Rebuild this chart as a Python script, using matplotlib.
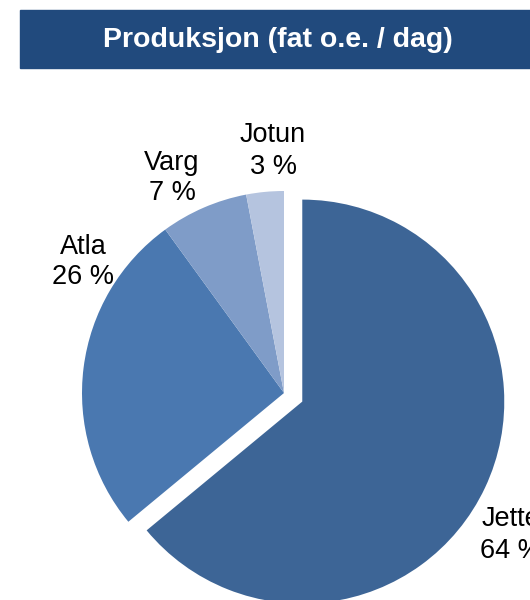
import numpy as np
import matplotlib.pyplot as plt
from matplotlib.patches import Rectangle

plt.rcParams['font.family'] = ['Liberation Sans', 'DejaVu Sans']

# data
fields = ['Jette', 'Atla', 'Varg', 'Jotun']
shares = [64, 26, 7, 3]
colors = ['#3d6596', '#4a78b0', '#7f9cc8', '#b5c4df']
pull = [0.1, 0, 0, 0]  # fraction of radius

# label spots in pixels (x, y from top)
label_pos = [(511, 535), (83, 262), (172, 178), (273, 151)]

W, H = 530, 600
R = 202
fig = plt.figure(figsize=(W / 100, H / 100), dpi=100)
ax = fig.add_axes([0, 0, 1, 1])
ax.set_xlim(0, W)
ax.set_ylim(0, H)

# title banner
ax.add_patch(Rectangle((20, H - 68), W - 20, 58, color='#214a7d', zorder=1))
ax.text(278, H - 40, 'Produksjon (fat o.e. / dag)', color='white', fontsize=20.5,
        fontweight='bold', ha='center', va='center')

# matplotlib's explode is in data units, so scale by radius
ax.pie(shares, colors=colors, explode=[p * R for p in pull], startangle=90,
       counterclock=False, center=(284, H - 393), radius=R, frame=True,
       wedgeprops=dict(linewidth=0))

for name, val, (x, y) in zip(fields, shares, label_pos):
    ax.text(x, H - y, '%s\n%d %%' % (name, val), fontsize=19.5, ha='center',
            va='center', linespacing=1.25, color='black')

ax.set_xlim(0, W)
ax.set_ylim(0, H)
ax.axis('off')
fig.savefig('out.png', dpi=100)
